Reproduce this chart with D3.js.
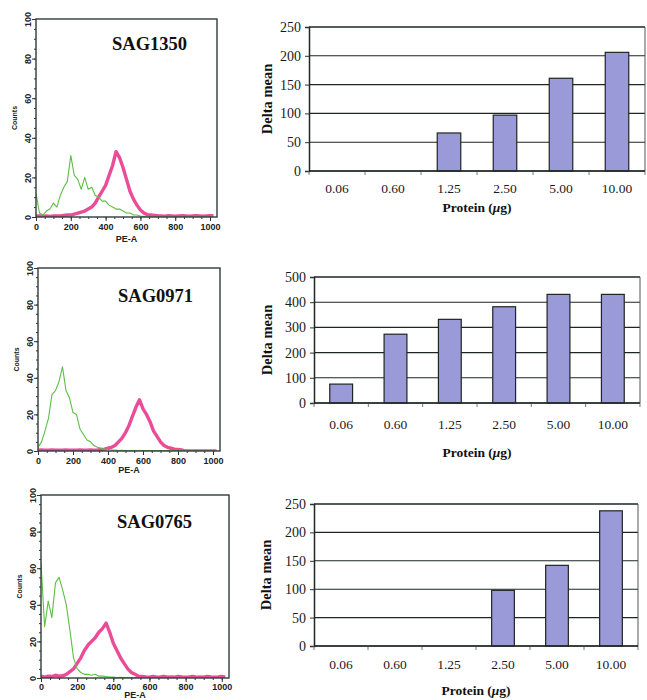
<!DOCTYPE html>
<html>
<head>
<meta charset="utf-8">
<script src="https://cdn.jsdelivr.net/npm/d3@7"></script>
<style>
	body { margin: 0; background: #fff; }
	svg { display: block; }
</style>
</head>
<body>
<svg width="647" height="700"></svg>
<script>

/*
	Data
*/
var peBins = [0, 20, 40, 60, 80, 100, 120, 140, 160, 180, 200, 220, 240, 260, 280, 300, 320, 340, 360, 380,
	400, 420, 440, 460, 480, 500, 520, 540, 560, 580, 600, 620, 640, 660, 680, 700, 720, 740, 760, 780,
	800, 820, 840, 860, 880, 900, 920, 940, 960, 980, 1000, 1020];

var sag1350Control = [12, 2, 1, 3, 4, 7, 5, 11, 15, 18, 31, 21, 19, 14, 20, 14, 15, 11, 10, 8,
	8, 6, 5, 4, 4, 3, 2, 2, 1, 1, 0.5, 0.3, 0, 0, 0, 0, 0, 0, 0, 0,
	0, 0, 0, 0, 0, 0, 0, 0, 0, 0, 0, 0];
var sag1350Stained = [0.5, 0.5, 0.3, 0.5, 0.3, 0.5, 0.5, 0.5, 0.8, 1, 1, 1.5, 2, 2.5, 3, 4, 5, 7, 10, 13,
	16, 21, 26, 33, 30, 25, 19, 13, 9, 6, 3.5, 2, 1.2, 1, 0.8, 0.6, 0.5, 0.4, 0.6, 0.5,
	0.4, 0.5, 0.6, 0.5, 0.4, 0.5, 0.6, 0.5, 0.4, 0.5, 0.6, 0.5];

var sag0971Control = [2, 5, 11, 18, 31, 33, 38, 46, 33, 29, 21, 20, 12, 9, 6, 5, 3, 2, 1.5, 1,
	0.8, 0.5, 0.5, 0.3, 0.4, 0.3, 0.3, 0.2, 0.3, 0.2, 0.3, 0.2, 0.3, 0.2, 0.2, 0.3, 0.2, 0.2, 0.3, 0.2,
	0.2, 0.2, 0, 0, 0, 0, 0, 0, 0, 0, 0, 0];
var sag0971Stained = [0.5, 0.6, 0.4, 0.5, 0.6, 0.5, 0.4, 0.5, 0.6, 0.5, 0.4, 0.5, 0.6, 0.5, 0.5, 0.6, 0.5, 0.6, 0.8, 1,
	1.5, 2, 3, 5, 7, 10, 14, 19, 24, 28, 23, 20, 16, 11, 8, 5, 3, 2, 1.5, 1,
	0.8, 0.6, 0, 0, 0, 0, 0, 0, 0, 0, 0, 0];

var sag0765Control = [63, 28, 42, 33, 52, 55, 48, 40, 26, 11, 5, 3, 2, 2, 1.5, 2, 1, 1, 0.8, 0.5,
	0.5, 0.3, 0.4, 0.3, 0.3, 0.2, 0.3, 0.2, 0.2, 0.3, 0.2, 0.2, 0.2, 0, 0, 0, 0, 0, 0, 0,
	0, 0, 0, 0, 0, 0, 0, 0, 0, 0, 0, 0];
var sag0765Stained = [1, 0.5, 1, 0.8, 1.5, 1, 1.2, 2, 3.5, 5, 8, 11, 15, 18, 20, 22, 25, 27, 30, 25,
	19, 15, 11, 8, 5, 3, 2, 1, 0.8, 0.6, 0.5, 0.8, 0.5, 0.6, 0.8, 0.5, 0.6, 0.5, 0.8, 0.6,
	0.5, 0.6, 0.8, 0.5, 0.6, 0.5, 0.8, 0.6, 0.5, 0.6, 0.8, 0.5];

var peTicks = [0, 200, 400, 600, 800, 1000];
var countTicks = [0, 20, 40, 60, 80, 100];

var proteinLabels = ["0.06", "0.60", "1.25", "2.50", "5.00", "10.00"];
var sag1350Delta = [0, 0, 66, 97, 161, 206];
var sag0971Delta = [75, 273, 332, 382, 431, 431];
var sag0765Delta = [0, 0, 0, 98, 142, 238];

var deltaTicks250 = [0, 50, 100, 150, 200, 250];
var deltaTicks500 = [0, 100, 200, 300, 400, 500];


var svg = d3.select('body svg');


/*
	Flow cytometry histograms
*/
function drawHistogram(o) {
	var g = svg.append('g');
	var x = d3.scaleLinear().domain([0, 1040]).range([o.left, o.right]);
	var y = d3.scaleLinear().domain([0, 100]).range([o.bottom, o.top]);

	var clipId = 'clip' + o.name;
	svg.append('clipPath').attr('id', clipId).append('rect').attr('x', o.left).attr('y', o.top - 2)
		.attr('width', o.right - o.left).attr('height', o.bottom - o.top + 2);

	var line = d3.line()
		.x(function (d, i) { return x(peBins[i]); })
		.y(function (d) { return y(d); });

	var lines = g.append('g').attr('clip-path', 'url(#' + clipId + ')');

	lines.append('path').datum(o.stained).attr('d', line)
		.attr('fill', 'none').attr('stroke', '#e8338a').attr('stroke-width', 3.4)
		.attr('stroke-linejoin', 'round').attr('opacity', 0.88);

	lines.append('path').datum(o.control).attr('d', line)
		.attr('fill', 'none').attr('stroke', '#5cbf44').attr('stroke-width', 1.1)
		.attr('stroke-linejoin', 'round');

	// minor ticks
	g.append('g').attr('transform', 'translate(' + o.left + ',0)')
		.call(d3.axisLeft(y).tickValues(d3.range(0, 101, 5)).tickFormat('').tickSize(2))
		.call(function (s) { s.select('.domain').remove(); s.selectAll('line').attr('stroke', '#333'); });
	g.append('g').attr('transform', 'translate(0,' + o.bottom + ')')
		.call(d3.axisBottom(x).tickValues(d3.range(0, 1001, 50)).tickFormat('').tickSize(2))
		.call(function (s) { s.select('.domain').remove(); s.selectAll('line').attr('stroke', '#333'); });

	// major ticks
	var ya = g.append('g').attr('transform', 'translate(' + o.left + ',0)')
		.call(d3.axisLeft(y).tickValues(countTicks).tickFormat(d3.format('d')).tickSize(4));
	ya.select('.domain').remove();
	ya.selectAll('line').attr('stroke', '#333');
	ya.selectAll('text')
		.attr('x', 0).attr('y', -5).attr('dy', null)
		.attr('transform', 'rotate(-90)')
		.style('text-anchor', 'middle')
		.style('font', 'bold 9px "Liberation Sans", Arial, sans-serif')
		.attr('fill', '#222');

	var xa = g.append('g').attr('transform', 'translate(0,' + o.bottom + ')')
		.call(d3.axisBottom(x).tickValues(peTicks).tickFormat(d3.format('d')).tickSize(4));
	xa.select('.domain').remove();
	xa.selectAll('line').attr('stroke', '#333');
	xa.selectAll('text')
		.attr('y', o.tickBase - o.bottom).attr('dy', null)
		.style('font', 'bold 9px "Liberation Sans", Arial, sans-serif')
		.attr('fill', '#222');

	g.append('rect').attr('x', o.left).attr('y', o.top)
		.attr('width', o.right - o.left).attr('height', o.bottom - o.top)
		.attr('fill', 'none').attr('stroke', '#2f3b3b').attr('stroke-width', 1.4);

	g.append('text').text('PE-A')
		.attr('x', (o.left + o.right) / 2).attr('y', o.peBase)
		.attr('text-anchor', 'middle')
		.style('font', 'bold 9px "Liberation Sans", Arial, sans-serif').attr('fill', '#222');

	g.append('text').text('Counts')
		.attr('transform', 'translate(' + (o.left - 19) + ',' + ((o.top + o.bottom) / 2) + ') rotate(-90)')
		.attr('text-anchor', 'middle')
		.style('font', 'bold 7px "Liberation Sans", Arial, sans-serif').attr('fill', '#222');

	g.append('text').text(o.name)
		.attr('x', o.labelX).attr('y', o.labelY)
		.style('font', 'bold 18.5px "Liberation Serif", "Times New Roman", serif').attr('fill', '#111');
}


/*
	Delta mean bar charts
*/
function drawBars(o) {
	var g = svg.append('g');
	var x = d3.scaleBand().domain(proteinLabels).range([o.left, o.right])
		.paddingInner(0.58).paddingOuter(0.29);
	var y = d3.scaleLinear().domain([0, o.ticks[o.ticks.length - 1]]).range([o.bottom, o.top]);
	var step = x.step();

	// gridlines
	g.append('g').selectAll('line').data(o.ticks).enter().append('line')
		.attr('x1', o.left).attr('x2', o.right)
		.attr('y1', function (d) { return y(d); }).attr('y2', function (d) { return y(d); })
		.attr('stroke', '#1e2626').attr('stroke-width', function (d, i) { return i === o.ticks.length - 1 ? 1.6 : 1.1; });

	g.append('line').attr('x1', o.right).attr('x2', o.right).attr('y1', o.top).attr('y2', o.bottom)
		.attr('stroke', '#555').attr('stroke-width', 1);

	g.append('g').selectAll('rect').data(o.values).enter().append('rect')
		.attr('x', function (d, i) { return x(proteinLabels[i]); })
		.attr('width', x.bandwidth())
		.attr('y', function (d) { return y(d); })
		.attr('height', function (d) { return o.bottom - y(d); })
		.attr('fill', '#9a9ad8')
		.attr('stroke', function (d) { return d > 0 ? '#1f2424' : 'none'; })
		.attr('stroke-width', 1.2);

	var ya = g.append('g').attr('transform', 'translate(' + o.left + ',0)')
		.call(d3.axisLeft(y).tickValues(o.ticks).tickSize(4).tickPadding(4));
	ya.select('.domain').attr('stroke', '#1e2626').attr('stroke-width', 1.5);
	ya.selectAll('line').attr('stroke', '#333');
	ya.selectAll('text')
		.style('font', '14px "Liberation Serif", "Times New Roman", serif').attr('fill', '#1a1a1a');

	// category boundary ticks
	g.append('g').selectAll('line').data(d3.range(proteinLabels.length + 1)).enter().append('line')
		.attr('x1', function (d) { return o.left + d * step; })
		.attr('x2', function (d) { return o.left + d * step; })
		.attr('y1', o.bottom).attr('y2', o.bottom + 4)
		.attr('stroke', '#777');

	g.append('line').attr('x1', o.left).attr('x2', o.right).attr('y1', o.bottom).attr('y2', o.bottom)
		.attr('stroke', '#1e2626').attr('stroke-width', 1.5);

	g.append('g').selectAll('text').data(proteinLabels).enter().append('text')
		.text(function (d) { return d; })
		.attr('x', function (d) { return x(d) + x.bandwidth() / 2; })
		.attr('y', o.tickBase)
		.attr('text-anchor', 'middle')
		.style('font', '13.5px "Liberation Serif", "Times New Roman", serif').attr('fill', '#1a1a1a');

	var t = g.append('text')
		.attr('x', (o.left + o.right) / 2).attr('y', o.proteinBase)
		.attr('text-anchor', 'middle')
		.style('font', 'bold 13.5px "Liberation Serif", "Times New Roman", serif').attr('fill', '#111');
	t.append('tspan').text('Protein (');
	t.append('tspan').text('\u03bc').style('font-style', 'italic');
	t.append('tspan').text('g)');

	g.append('text').text('Delta mean')
		.attr('transform', 'translate(' + o.deltaX + ',' + ((o.top + o.bottom) / 2) + ') rotate(-90)')
		.attr('text-anchor', 'middle')
		.style('font', 'bold 14.5px "Liberation Serif", "Times New Roman", serif').attr('fill', '#111');
}


drawHistogram({
	name: 'SAG1350', control: sag1350Control, stained: sag1350Stained,
	left: 36, right: 217, top: 19, bottom: 217,
	tickBase: 230, peBase: 242, labelX: 112, labelY: 50
});
drawHistogram({
	name: 'SAG0971', control: sag0971Control, stained: sag0971Stained,
	left: 38, right: 220, top: 268, bottom: 451,
	tickBase: 464, peBase: 473, labelX: 118, labelY: 302
});
drawHistogram({
	name: 'SAG0765', control: sag0765Control, stained: sag0765Stained,
	left: 41, right: 229, top: 495, bottom: 678,
	tickBase: 690, peBase: 698, labelX: 117, labelY: 528
});

drawBars({
	values: sag1350Delta, ticks: deltaTicks250,
	left: 309, right: 645, top: 27, bottom: 171,
	tickBase: 193, proteinBase: 212, deltaX: 272
});
drawBars({
	values: sag0971Delta, ticks: deltaTicks500,
	left: 314, right: 640, top: 277, bottom: 403,
	tickBase: 429, proteinBase: 457, deltaX: 272
});
drawBars({
	values: sag0765Delta, ticks: deltaTicks250,
	left: 314, right: 638, top: 504, bottom: 646,
	tickBase: 669, proteinBase: 695, deltaX: 271
});

</script>
</body>
</html>
